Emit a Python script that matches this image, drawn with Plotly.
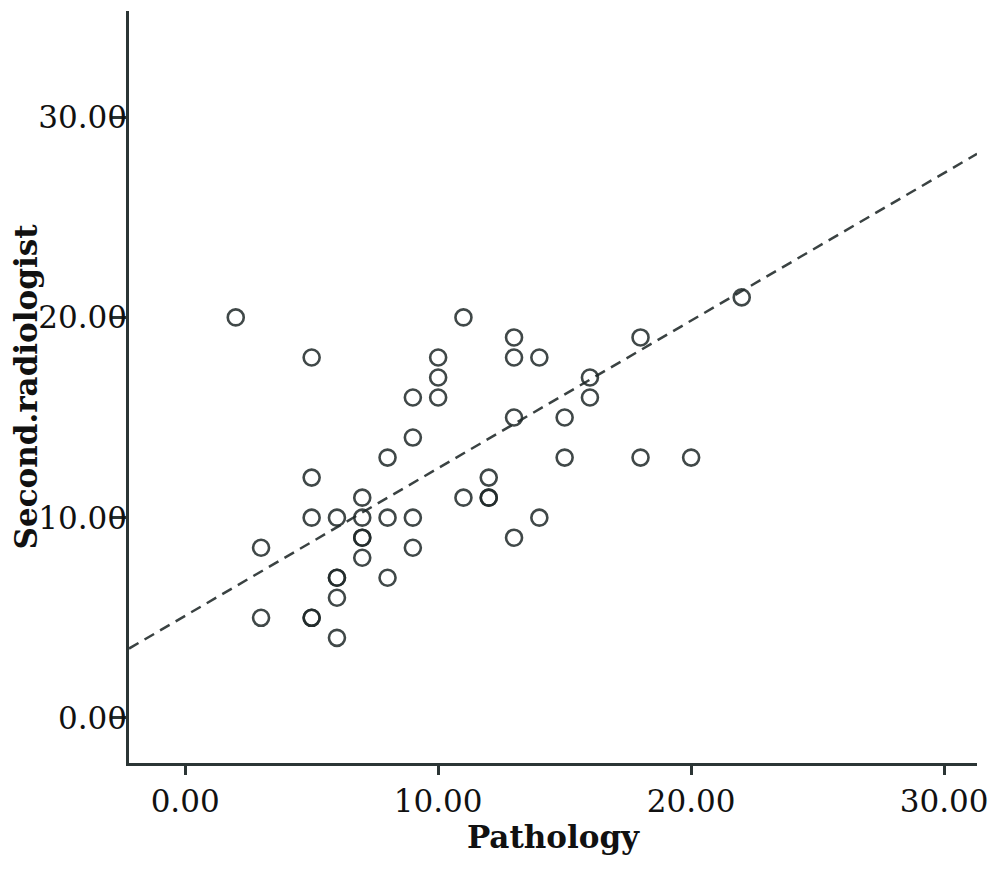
import plotly.graph_objects as go

# Data
pathology = [2, 5, 11, 10, 10, 10, 9, 9, 8, 13, 13, 14, 18, 16, 16, 13, 15, 15, 18, 20, 22,
             12, 12, 12, 11, 13, 14, 5, 5, 6, 7, 7, 8, 9, 7, 7, 7, 9, 3, 8, 6, 6, 6, 6, 3, 5, 5]
second_radiologist = [20, 18, 20, 18, 17, 16, 16, 14, 13, 19, 18, 18, 19, 17, 16, 15, 15, 13, 13, 13, 21,
                      12, 11, 11, 11, 9, 10, 12, 10, 10, 11, 10, 10, 10, 9, 9, 8, 8.5, 8.5, 7, 7, 7, 6, 4, 5, 5, 5]

# Fit line
fit_intercept = 5.1
fit_slope = 0.737
x_range = [-2.22, 31.3]
y_range = [-2.25, 35.3]

tick_vals = [0, 10, 20, 30]
tick_text = ["0.00", "10.00", "20.00", "30.00"]

axis_color = "#2b3535"
mark_color = "rgba(30,40,40,0.85)"
font_family = "DejaVu Serif"

fig = go.Figure()

fig.add_trace(go.Scatter(
    x=x_range,
    y=[fit_intercept + fit_slope * v for v in x_range],
    mode="lines",
    line=dict(color="#3a4242", width=2.5, dash="11px,7px"),
    hoverinfo="skip",
    showlegend=False,
))

fig.add_trace(go.Scatter(
    x=pathology,
    y=second_radiologist,
    mode="markers",
    marker=dict(symbol="circle-open", size=16, color=mark_color,
                line=dict(width=2.6, color=mark_color)),
    showlegend=False,
))

fig.update_layout(
    width=992, height=865,
    margin=dict(l=121, r=23, t=3, b=110),
    paper_bgcolor="white",
    plot_bgcolor="white",
    font=dict(family=font_family, color="#111111", size=31),
    xaxis=dict(
        range=x_range, tickvals=tick_vals, ticktext=tick_text,
        showgrid=False, zeroline=False,
        showline=True, linecolor=axis_color, linewidth=2.5,
        ticks="outside", ticklen=9, tickwidth=2.5, tickcolor=axis_color,
        tickfont=dict(size=31, family=font_family, color="#111111"),
        title=dict(text="<b>Pathology</b>", font=dict(size=31, family=font_family, color="#111111"),
                   standoff=4),
    ),
    yaxis=dict(
        range=y_range, tickvals=tick_vals, ticktext=tick_text,
        showgrid=False, zeroline=False,
        showline=True, linecolor=axis_color, linewidth=2.5,
        ticks="outside", ticklen=14, tickwidth=2.5, tickcolor=axis_color,
        ticklabelstandoff=-21,
        tickfont=dict(size=31, family=font_family, color="#111111"),
        title=dict(text="<b>Second.radiologist</b>", font=dict(size=31, family=font_family, color="#111111"),
                   standoff=2),
    ),
)

fig.write_html("out.html")
